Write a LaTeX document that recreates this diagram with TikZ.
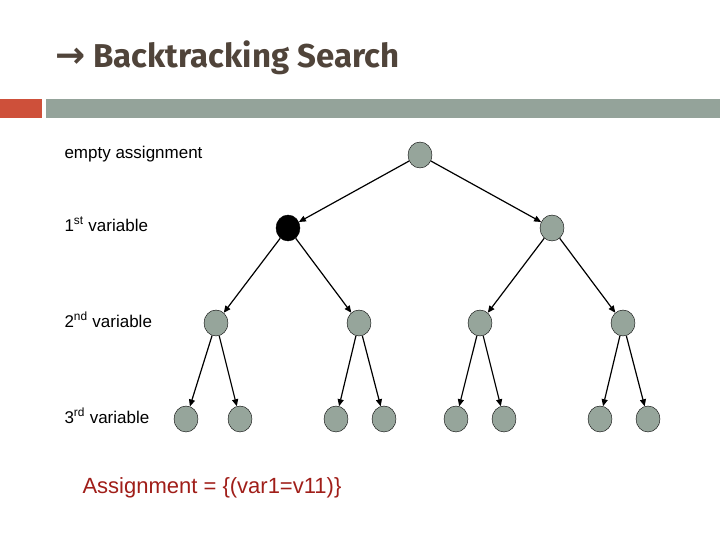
\documentclass[tikz,border=0pt]{standalone}
\usepackage{fontspec}
\setmainfont{Liberation Sans}
\newfontfamily\titlefont{Fira Sans}
\newfontfamily\symfont{DejaVu Sans}
\usetikzlibrary{arrows.meta, shapes.geometric}
\definecolor{barred}{RGB}{206,80,58}
\definecolor{bargray}{RGB}{148,163,154}
\definecolor{nodegray}{RGB}{150,165,155}
\definecolor{titlebrown}{RGB}{80,68,58}
\definecolor{asgred}{RGB}{160,30,25}
\tikzset{
  state/.style={ellipse, draw, fill=nodegray, minimum width=24pt, minimum height=26pt, inner sep=0pt},
  current/.style={state, fill=black},
  edge/.style={-{Triangle[length=7pt,width=6pt]}, line width=1.2pt},
  level/.style={anchor=base west, font=\fontsize{17}{19}\selectfont}
}
\begin{document}
\begin{tikzpicture}[x=1pt, y=-1pt]
\useasboundingbox (0,0) rectangle (720,540);
% Title and bar
\node (title) [anchor=base west, text=titlebrown, font=\titlefont\bfseries\fontsize{33}{36}\selectfont] at (52,68) {{\symfont\bfseries\fontsize{36}{36}\selectfont →} Backtracking Search};
\fill[barred] (0,99) rectangle (42,118);
\fill[bargray] (46,99) rectangle (720,118);

% Level labels
\node (l0) [level] at (61,159) {empty assignment};
\node (l1) [level] at (61,231) {1\textsuperscript{st} variable};
\node (l2) [level] at (61,327) {2\textsuperscript{nd} variable};
\node (l3) [level] at (61,423) {3\textsuperscript{rd} variable};

% Tree
\node (root) [state] at (420,155) {};
\node (a) [current] at (288,228) {};
\node (b) [state] at (552,228) {};
\foreach \name/\x in {aa/216, ab/359, ba/480, bb/623}
  \node (\name) [state] at (\x,323) {};
\foreach \name/\x in {aaa/186, aab/240, aba/336, abb/384, baa/456, bab/504, bba/600, bbb/648}
  \node (\name) [state] at (\x,419) {};

\draw[edge] (root) -- (a);
\draw[edge] (root) -- (b);
\foreach \p/\c in {a/aa, a/ab, b/ba, b/bb, aa/aaa, aa/aab, ab/aba, ab/abb, ba/baa, ba/bab, bb/bba, bb/bbb}
  \draw[edge] (\p) -- (\c);

% Current assignment
\node (asg) [anchor=base west, text=asgred, font=\fontsize{22}{24}\selectfont] at (79,493) {Assignment = \{(var1=v11)\}};
\end{tikzpicture}
\end{document}
